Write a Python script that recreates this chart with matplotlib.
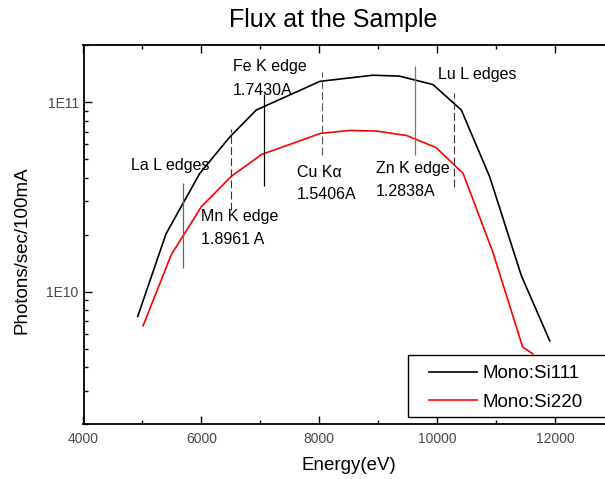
import matplotlib
matplotlib.use("Agg")
import matplotlib.pyplot as plt
from matplotlib.ticker import FixedLocator, LogLocator, NullFormatter, FuncFormatter, MultipleLocator
from matplotlib.patches import Rectangle
import numpy as np

plt.rcParams['font.family'] = ['Liberation Sans', 'DejaVu Sans']

# Data
e_si111 = [4920, 5400, 5970, 6480, 6930, 8010, 8910, 9360, 9930, 10410, 10890, 11430, 11910]
f_si111 = [7.4e9, 2.02e10, 4.2e10, 6.55e10, 9.1e10, 1.29e11, 1.39e11, 1.375e11, 1.24e11,
           9.1e10, 4.05e10, 1.21e10, 5.5e9]

e_si220 = [5010, 5490, 6000, 6510, 7020, 8020, 8510, 8970, 9480, 9980, 10440, 10950, 11450, 11620]
f_si220 = [6.6e9, 1.57e10, 2.81e10, 4.07e10, 5.3e10, 6.85e10, 7.1e10, 7.05e10, 6.68e10,
           5.77e10, 4.21e10, 1.6e10, 5.1e9, 4.7e9]

series_labels = ["Mono:Si111", "Mono:Si220"]

# Edge marker lines: energy, ymin, ymax
edge_e = [5690, 6510, 7055, 8045, 9630, 10280]
edge_ymin = [1.34e10, 2.71e10, 3.61e10, 5.25e10, 5.25e10, 3.58e10]
edge_ymax = [3.73e10, 7.24e10, 1.11e11, 1.44e11, 1.56e11, 1.12e11]
edge_style = ['-', '--', '-', '--', '-', '--']
edge_color = ['#666666', '#333333', '#000000', '#555555', '#777777', '#333333']

# Annotation texts: x (left), y (center)
ann_text = ["La L edges", "Mn K edge", "1.8961 A", "Fe K edge", "1.7430A",
            "Cu K\u03b1", "1.5406A", "Zn K edge", "1.2838A", "Lu L edges"]
ann_x = [4810, 5997, 5997, 6528, 6528, 7614, 7614, 8966, 8966, 10011]
ann_y = [4.66e10, 2.49e10, 1.88e10, 1.54e11, 1.15e11, 4.28e10, 3.24e10, 4.48e10, 3.37e10, 1.41e11]

W, H = 605, 479
fig = plt.figure(figsize=(6.05, 4.79), dpi=100)
ax = fig.add_axes([83.5/W, 55/H, (614-83.5)/W, (424-45.3)/H])

ax.plot(e_si111, f_si111, color='black', lw=1.2, label=series_labels[0])
ax.plot(e_si220, f_si220, color='red', lw=1.2, label=series_labels[1])

for x, y0, y1, ls, c in zip(edge_e, edge_ymin, edge_ymax, edge_style, edge_color):
    if ls == '--':
        ax.vlines(x, y0, y1, colors=c, linestyles=(0, (7, 3)), lw=0.8)
    else:
        ax.vlines(x, y0, y1, colors=c, lw=0.9)

for t, x, y in zip(ann_text, ann_x, ann_y):
    ax.text(x, y, t, fontsize=11.5, ha='left', va='center', color='black')

ax.set_yscale('log')
ax.set_xlim(4000, 13000)
ax.set_ylim(2e9, 2e11)

ax.xaxis.set_major_locator(MultipleLocator(2000))
ax.xaxis.set_minor_locator(MultipleLocator(1000))
ax.yaxis.set_major_locator(FixedLocator([1e10, 1e11]))
ax.yaxis.set_major_formatter(FuncFormatter(lambda v, p: "1E%d" % round(np.log10(v))))
ax.yaxis.set_minor_locator(LogLocator(base=10, subs=np.arange(2, 10)))
ax.yaxis.set_minor_formatter(NullFormatter())

ax.tick_params(which='both', direction='in', top=True, right=True, labelsize=10,
               labelcolor='#4a4a4a', width=1.0)
ax.tick_params(which='major', length=5.5)
ax.tick_params(which='minor', length=3)
ax.tick_params(axis='x', pad=6)
for s in ax.spines.values():
    s.set_linewidth(1.3)

ax.set_xlabel("Energy(eV)", fontsize=13.5, labelpad=8)
ax.set_ylabel("Photons/sec/100mA", fontsize=13.5, labelpad=10)
ax.yaxis.set_label_coords(-0.1, 0.46)
ax.yaxis.label.set_horizontalalignment('center')
fig.text(333/W, 1 - 20/H, "Flux at the Sample", fontsize=18, ha='center', va='center')

# Legend frame (extends past the right edge like the reference)
frame = Rectangle((408/W, 1 - 417/H), 0.5, (417-355)/H, transform=fig.transFigure,
                  facecolor='white', edgecolor='black', lw=1.0, zorder=5)
fig.patches.append(frame)

leg = fig.legend(*ax.get_legend_handles_labels(), loc='upper left',
                 bbox_to_anchor=(429/W, 1 - 365/H), bbox_transform=fig.transFigure,
                 fontsize=13.5, frameon=False, handlelength=2.55,
                 borderaxespad=0, borderpad=0, labelspacing=0.62, handletextpad=0.32)
leg.set_zorder(6)

fig.savefig("out.png", dpi=100)
